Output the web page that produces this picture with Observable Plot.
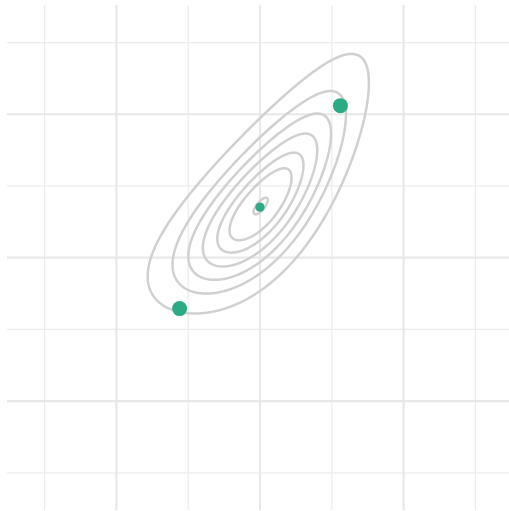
<!DOCTYPE html>
<html>
<head>
<meta charset="utf-8">
<script src="https://cdn.jsdelivr.net/npm/d3@7"></script>
<script src="https://cdn.jsdelivr.net/npm/@observablehq/plot@0.6"></script>
<style>
  html, body { margin: 0; padding: 0; background: #ffffff; overflow: hidden; }
</style>
</head>
<body>
<div id="chart"></div>
<script>
// Grid ticks
const minorTicks = [-3, -1, 1, 3];
const majorTicks = [-2, 0, 2];

// Sample points (two observations and their mean)
const pointX = [-1.12, 1.12, 0.0];
const pointY = [-0.71, 2.12, 0.705];
const pointR = [7.5, 7.5, 4.6];

// Density contour model (parameters)
const modeXY = [0.01, 0.72];
const sigmaX = 1.0;
const sigmaY = 1.16;
const rho = 0.73;
const skewAngle = 84;   // degrees, direction of the long tail
const skewK = 0.2;
const axisAngle = 50;   // degrees, main axis of the contours
const widenK = -0.11;   // change of cross-axis width along the main axis
const contourRadii = [1.525, 1.2, 0.99, 0.794, 0.599, 0.432, 0.1];

const phi = skewAngle * Math.PI / 180;
const th = axisAngle * Math.PI / 180;
function radius(x, y) {
  let dx = x - modeXY[0], dy = y - modeXY[1];
  const ux = Math.cos(phi), uy = Math.sin(phi);
  const p = dx * ux + dy * uy;
  const q = 1 + skewK * p;
  if (q <= 0.01) return 99;
  const p2 = Math.log(q) / skewK;
  dx += (p2 - p) * ux;
  dy += (p2 - p) * uy;
  const c = Math.cos(th), s0 = Math.sin(th);
  const s = dx * c + dy * s0;
  let t = -dx * s0 + dy * c;
  t *= Math.exp(-widenK * s);
  dx = s * c - t * s0;
  dy = s * s0 + t * c;
  const zx = dx / sigmaX, zy = dy / sigmaY;
  return Math.sqrt((zx * zx - 2 * rho * zx * zy + zy * zy) / (1 - rho * rho));
}

const points = pointX.map((x, i) => ({x, y: pointY[i], r: pointR[i]}));
const xDomain = [-3.517, 3.475];
const yDomain = [-3.526, 3.517];

const chart = Plot.plot({
  width: 509,
  height: 511,
  marginLeft: 7,
  marginRight: 0,
  marginTop: 5,
  marginBottom: 1,
  x: {domain: xDomain, axis: null},
  y: {domain: yDomain, axis: null},
  r: {type: "identity"},
  marks: [
    Plot.gridX(minorTicks, {stroke: "#ececec", strokeOpacity: 1, strokeWidth: 1.2}),
    Plot.gridY(minorTicks, {stroke: "#ececec", strokeOpacity: 1, strokeWidth: 1.2}),
    Plot.gridX(majorTicks, {stroke: "#e8e8e8", strokeOpacity: 1, strokeWidth: 2.2}),
    Plot.gridY(majorTicks, {stroke: "#e8e8e8", strokeOpacity: 1, strokeWidth: 2.2}),
    Plot.contour({
      value: (x, y) => -radius(x, y),
      x1: xDomain[0], x2: xDomain[1], y1: yDomain[0], y2: yDomain[1],
      thresholds: contourRadii.map(r => -r).sort((a, b) => a - b),
      stroke: "#d0d0d0",
      strokeWidth: 2.5,
      fill: "none",
      pixelSize: 1
    }),
    Plot.dot(points, {x: "x", y: "y", r: "r", fill: "#2ca985", stroke: "none"})
  ]
});
document.getElementById("chart").appendChild(chart);
</script>
</body>
</html>
